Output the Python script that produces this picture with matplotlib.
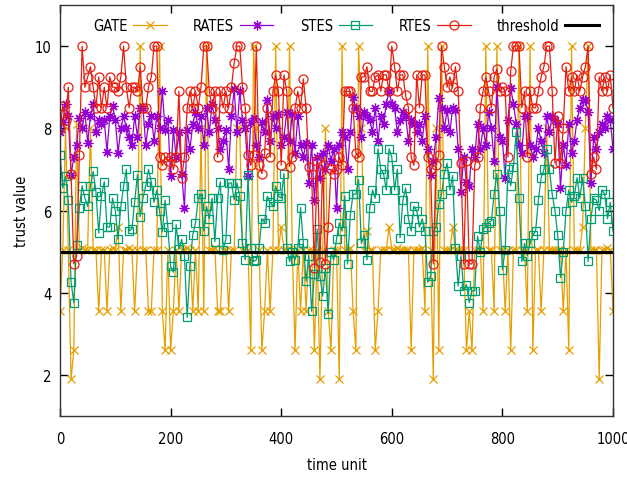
import numpy as np
import matplotlib
matplotlib.use("Agg")
import matplotlib.pyplot as plt

# time axis: one sample every 5 time units
time_start, time_stop, time_step = 0, 1000, 5

gate = [
    3.55, 5.05, 8.0, 5.05, 1.9, 2.6, 8.1, 5.05, 5.1, 5.05,
    5.05, 8.0, 5.05, 5.05, 3.55, 5.05, 5.05, 3.55, 5.05, 5.1,
    5.05, 5.6, 3.55, 5.05, 5.05, 5.1, 5.05, 3.55, 5.05, 10.0,
    5.05, 5.05, 3.55, 3.55, 5.05, 5.05, 10.0, 3.55, 2.6, 5.05,
    2.6, 3.55, 5.05, 3.55, 5.05, 5.05, 5.1, 5.05, 3.55, 5.05,
    3.55, 8.0, 3.55, 10.0, 5.05, 5.05, 5.1, 3.55, 3.55, 5.05,
    5.05, 3.55, 5.05, 5.05, 8.0, 8.0, 5.05, 5.1, 5.05, 2.6,
    10.0, 8.0, 5.05, 2.6, 3.55, 5.05, 3.55, 5.05, 10.0, 5.05,
    5.6, 5.05, 5.05, 10.0, 5.05, 2.6, 5.05, 3.55, 5.05, 3.55,
    5.05, 5.05, 2.6, 5.05, 1.9, 5.05, 8.0, 3.55, 2.6, 5.05,
    5.05, 1.9, 10.0, 5.05, 5.05, 5.1, 3.55, 2.6, 10.0, 8.0,
    5.05, 5.5, 5.05, 5.05, 2.6, 3.55, 5.05, 5.05, 5.05, 5.6,
    5.05, 5.05, 5.1, 5.05, 5.05, 5.05, 5.05, 2.6, 5.05, 5.05,
    5.05, 5.1, 3.55, 10.0, 5.05, 1.9, 8.0, 2.6, 10.0, 5.05,
    5.05, 5.05, 5.6, 5.05, 5.05, 5.05, 5.05, 2.6, 3.55, 2.6,
    5.05, 5.05, 5.05, 3.55, 10.0, 5.05, 5.05, 3.55, 10.0, 5.05,
    5.05, 3.55, 5.05, 2.6, 5.05, 5.05, 10.0, 5.05, 5.05, 3.55,
    10.0, 2.6, 5.05, 5.05, 3.55, 5.05, 8.0, 5.05, 5.05, 5.05,
    5.05, 5.05, 3.55, 5.05, 2.6, 10.0, 5.05, 5.05, 5.05, 5.6,
    8.0, 10.0, 5.05, 5.05, 5.05, 1.9, 5.05, 5.05, 5.1, 5.05,
    3.55,
]

rates = [
    7.9, 8.15, 8.6, 8.3, 6.87, 7.3, 7.6, 8.25, 8.0, 8.4,
    7.65, 8.3, 8.6, 7.9, 8.2, 8.1, 8.2, 7.43, 8.3, 8.55,
    8.2, 7.4, 8.0, 8.3, 8.0, 7.8, 7.6, 8.3, 7.8, 8.5,
    8.5, 7.6, 8.1, 8.3, 7.7, 8.3, 8.0, 8.9, 7.95, 8.2,
    6.85, 7.95, 7.3, 7.9, 6.9, 6.07, 7.95, 7.5, 8.1, 8.4,
    8.0, 8.3, 7.6, 8.5, 7.9, 8.6, 8.2, 8.0, 7.5, 7.7,
    7.95, 7.0, 8.3, 8.95, 7.9, 8.9, 8.2, 8.0, 6.85, 8.15,
    8.25, 7.6, 7.3, 8.15, 7.9, 8.7, 7.7, 8.3, 8.0, 8.35,
    7.6, 7.8, 8.4, 7.7, 8.35, 7.4, 8.3, 7.6, 7.3, 7.65,
    6.67, 7.6, 6.26, 7.3, 6.8, 7.4, 7.0, 7.6, 7.2, 7.5,
    6.07, 7.6, 7.9, 7.8, 7.0, 7.9, 8.76, 8.5, 8.3, 7.8,
    8.4, 8.3, 8.2, 7.9, 8.5, 7.7, 8.3, 8.1, 8.6, 8.9,
    8.6, 8.5, 7.9, 8.2, 8.4, 8.3, 7.7, 8.2, 8.1, 7.9,
    8.1, 7.7, 8.3, 7.5, 6.87, 7.2, 7.8, 8.73, 8.5, 8.0,
    8.45, 7.9, 8.5, 8.45, 7.5, 6.46, 7.3, 6.7, 6.6, 7.5,
    7.3, 8.1, 7.5, 8.0, 7.6, 8.4, 8.0, 7.2, 9.0, 7.8,
    7.7, 6.8, 8.2, 8.97, 8.6, 8.1, 7.6, 7.4, 8.3, 8.3,
    7.6, 7.3, 7.5, 8.0, 7.7, 7.4, 8.3, 7.9, 8.3, 8.2,
    8.1, 6.55, 7.6, 7.1, 8.1, 7.4, 7.7, 8.2, 8.5, 8.7,
    8.7, 8.4, 6.67, 7.8, 7.5, 7.9, 8.1, 8.0, 8.3, 8.2,
    7.5,
]

stes = [
    7.35, 6.55, 6.83, 6.25, 4.25, 3.76, 5.17, 6.07, 6.6, 6.3,
    6.1, 6.6, 6.95, 6.45, 5.45, 6.35, 6.7, 5.6, 5.6, 6.3,
    6.0, 5.3, 6.1, 6.6, 7.0, 5.5, 5.55, 6.2, 6.87, 5.85,
    6.3, 6.6, 7.0, 6.7, 6.2, 6.5, 6.0, 5.48, 6.25, 5.6,
    4.64, 4.5, 5.66, 5.06, 5.3, 4.9, 3.4, 4.65, 5.4, 5.7,
    6.3, 6.4, 5.5, 6.1, 5.8, 6.3, 5.24, 6.3, 6.7, 5.05,
    5.3, 6.67, 6.67, 6.26, 6.67, 6.35, 5.2, 4.8, 6.87, 5.1,
    4.76, 4.8, 5.1, 5.8, 5.7, 6.35, 6.2, 6.1, 6.6, 6.35,
    6.3, 6.9, 5.1, 4.76, 5.0, 4.8, 5.1, 6.07, 5.2, 4.28,
    4.9, 3.55, 4.45, 5.55, 4.4, 3.92, 4.6, 3.48, 5.0, 4.8,
    5.3, 5.7, 5.5, 6.35, 4.7, 5.9, 6.4, 6.4, 6.75, 5.2,
    5.4, 4.8, 6.05, 6.5, 6.3, 7.5, 7.0, 6.9, 6.5, 7.5,
    7.3, 6.5, 7.0, 5.34, 6.25, 6.55, 5.8, 5.5, 6.1, 6.0,
    5.6, 5.8, 5.5, 4.25, 4.4, 5.5, 5.6, 6.15, 6.4, 6.9,
    7.15, 6.5, 6.85, 5.1, 4.16, 4.9, 4.05, 4.2, 3.76, 4.05,
    4.05, 5.38, 5.0, 5.55, 5.6, 5.7, 5.75, 6.4, 6.9, 6.0,
    4.56, 5.05, 7.0, 6.6, 7.07, 7.92, 6.3, 4.76, 5.2, 4.9,
    5.2, 5.4, 5.5, 6.25, 6.8, 7.0, 7.5, 7.0, 6.4, 6.0,
    5.4, 4.37, 5.0, 6.0, 6.5, 6.2, 6.35, 6.8, 6.3, 6.8,
    6.1, 4.76, 5.8, 6.3, 6.25, 6.0, 6.5, 6.4, 5.8, 6.2,
    5.5,
]

rtes = [
    8.0, 8.55, 8.2, 9.0, 6.9, 4.7, 4.9, 7.35, 10.0, 9.0,
    9.25, 9.5, 9.0, 8.5, 9.25, 8.5, 9.0, 8.5, 9.25, 9.0,
    9.0, 8.9, 9.25, 10.0, 9.0, 8.5, 9.0, 9.0, 8.9, 9.5,
    8.5, 8.5, 9.0, 9.25, 10.0, 10.0, 7.3, 7.1, 7.3, 7.2,
    7.3, 7.0, 7.3, 8.9, 6.8, 7.3, 8.5, 8.9, 8.5, 8.9,
    8.5, 9.0, 10.0, 10.0, 8.9, 8.5, 8.9, 7.3, 8.9, 8.5,
    8.9, 8.5, 9.0, 9.6, 10.0, 10.0, 9.0, 8.5, 7.35, 7.1,
    7.35, 10.0, 7.1, 6.9, 7.4, 8.5, 7.3, 8.9, 9.3, 8.9,
    7.1, 9.3, 8.9, 7.07, 7.3, 8.5, 8.9, 8.5, 9.2, 8.5,
    7.07, 6.9, 4.6, 7.2, 4.75, 7.1, 4.7, 5.6, 7.0, 6.9,
    7.0, 7.3, 7.1, 8.9, 8.9, 8.9, 8.5, 7.4, 7.3, 9.25,
    9.25, 9.5, 8.9, 8.9, 9.25, 9.3, 8.9, 9.3, 9.3, 8.9,
    10.0, 9.5, 8.9, 9.3, 9.3, 8.8, 8.5, 7.3, 7.1, 9.3,
    8.5, 9.3, 9.3, 7.3, 7.0, 4.7, 7.1, 7.35, 10.0, 9.5,
    9.0, 9.25, 9.0, 9.5, 8.9, 7.15, 4.7, 7.2, 4.7, 4.7,
    7.1, 7.3, 8.5, 8.9, 9.25, 8.9, 8.5, 9.25, 9.45, 8.9,
    9.0, 8.9, 7.3, 9.4, 10.0, 10.0, 10.0, 8.5, 8.9, 7.3,
    8.9, 8.5, 8.5, 8.9, 9.25, 9.5, 10.0, 10.0, 8.9, 7.15,
    8.3, 7.15, 8.0, 9.5, 8.9, 9.25, 8.9, 9.3, 8.9, 9.25,
    9.5, 10.0, 6.9, 7.3, 7.0, 9.25, 8.9, 9.25, 8.9, 9.3,
    8.5,
]

threshold = 5.0

series_names = ["GATE", "RATES", "STES", "RTES"]
series_colors = ["#e69f00", "#9400d3", "#009e73", "#e51e10"]
x_ticks = [0, 200, 400, 600, 800, 1000]
y_ticks = [2, 4, 6, 8, 10]

plt.rcParams["font.family"] = ["DejaVu Sans"]
plt.rcParams["font.stretch"] = "condensed"

t = np.arange(time_start, time_stop + time_step, time_step)

fig = plt.figure(figsize=(6.27, 4.81), dpi=100)
ax = fig.add_axes([0.0957, 0.133, 0.8820, 0.8545])

styles = [
    dict(marker="x", markersize=6, markeredgewidth=0.9),
    dict(marker=(8, 2, 0), markersize=7, markeredgewidth=0.9),
    dict(marker="s", markersize=5.5, markeredgewidth=0.9, markerfacecolor="none"),
    dict(marker="o", markersize=6.5, markeredgewidth=0.9, markerfacecolor="none"),
]

for vals, name, col, st in zip([gate, rates, stes, rtes], series_names, series_colors, styles):
    ax.plot(t, vals, color=col, lw=0.9, label=name, **st)

ax.axhline(threshold, color="black", lw=2.2, label="threshold")

ax.set_xlim(time_start, time_stop)
ax.set_ylim(1, 11)
ax.set_xticks(x_ticks)
ax.set_yticks(y_ticks)
ax.tick_params(direction="in", length=6, width=1, top=True, right=True,
               labelsize=10.5)
ax.tick_params(axis="x", pad=11)
ax.tick_params(axis="y", pad=6)
for s in ax.spines.values():
    s.set_linewidth(1.0)
    s.set_color("#333333")

ax.set_xlabel("time unit", fontsize=10.5, labelpad=8)
ax.set_ylabel("trust value", fontsize=10.5, labelpad=4)

ax.legend(loc="upper center", ncol=5, frameon=False, markerfirst=False,
          handlelength=2.3, handletextpad=0.4, columnspacing=1.8,
          fontsize=10.5, bbox_to_anchor=(0.517, 1.0))

fig.savefig("out.png", dpi=100)
